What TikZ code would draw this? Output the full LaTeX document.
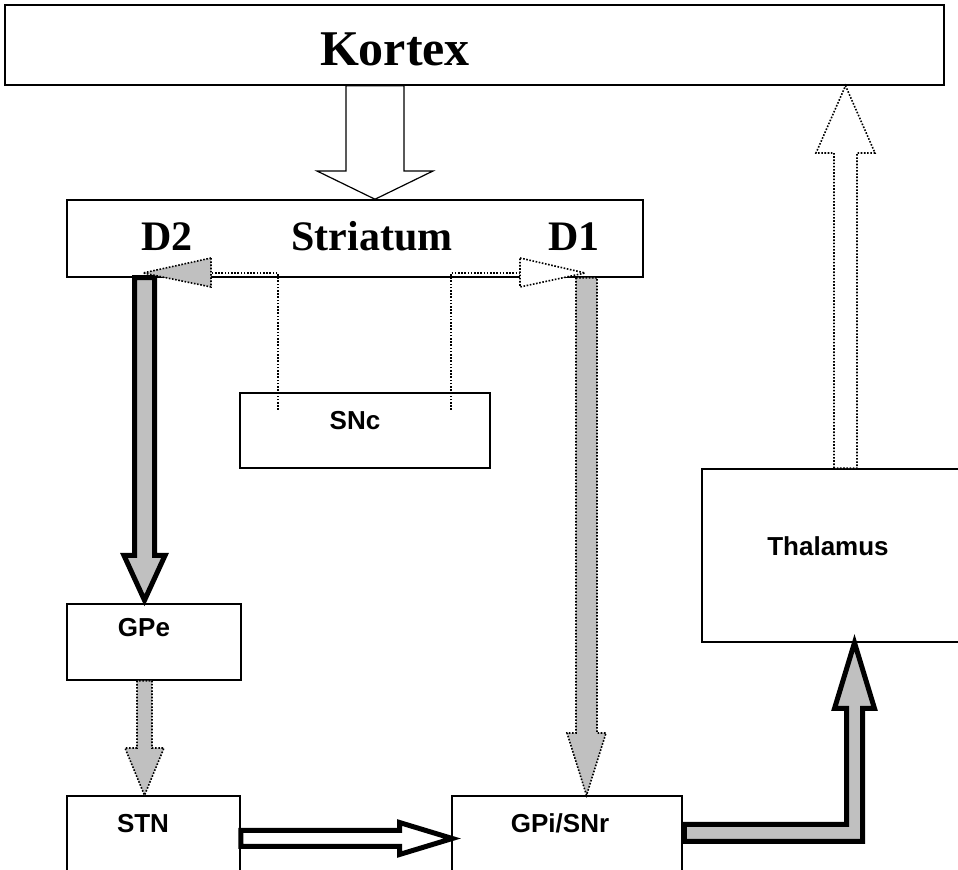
\documentclass[tikz,border=0pt]{standalone}
\usepackage{fontspec}
\setmainfont{Liberation Serif}
\newfontfamily\arialfont{Liberation Sans}
\usetikzlibrary{calc}
\definecolor{silver}{RGB}{192,192,192}

\begin{document}
\begin{tikzpicture}[
  box/.style={draw,rectangle,line width=1.5bp,inner sep=0pt},
  bigtext/.style={font=\fontsize{42bp}{42bp}\selectfont\bfseries,anchor=base,inner sep=0pt},
  smalltext/.style={font=\arialfont\fontsize{26bp}{26bp}\selectfont\bfseries,anchor=base,inner sep=0pt},
  hollow/.style={draw,fill=white,line width=1.2bp},
  hollowthick/.style={draw,fill=white,line width=5bp},
  greythick/.style={draw,fill=silver,line width=5bp},
  dotline/.style={draw,line width=1.6bp,dash pattern=on 1.6bp off 1.6bp},
  greydot/.style={dotline,fill=silver},
  whitedot/.style={dotline,fill=white}]
  \useasboundingbox (0,0) rectangle (958bp,870bp);
  %% boxes
  \node (Kortex) at (474.5bp,825bp) [box,minimum width=939bp,minimum height=80bp] {};
  \node (Striatum) at (355bp,631.5bp) [box,minimum width=576bp,minimum height=77bp] {};
  \node (SNc) at (365bp,439.5bp) [box,minimum width=250bp,minimum height=75bp] {};
  \node (GPe) at (154bp,228bp) [box,minimum width=174bp,minimum height=76bp] {};
  \node (STN) at (153.5bp,24bp) [box,minimum width=173bp,minimum height=100bp] {};
  \node (GPi) at (567bp,24bp) [box,minimum width=230bp,minimum height=100bp] {};
  \node (Thalamus) at (841bp,314.5bp) [box,minimum width=278bp,minimum height=173bp] {};
  %% labels
  \node (KortexLbl) at (395bp,804bp) [bigtext,font=\fontsize{50bp}{50bp}\selectfont\bfseries] {Kortex};
  \node (D2Lbl) at (167bp,619bp) [bigtext] {D2};
  \node (StriatumLbl) at (372bp,619bp) [bigtext] {Striatum};
  \node (D1Lbl) at (574bp,619bp) [bigtext] {D1};
  \node (SNcLbl) at (355bp,440bp) [smalltext] {SNc};
  \node (GPeLbl) at (144bp,233bp) [smalltext] {GPe};
  \node (STNLbl) at (143bp,38bp) [smalltext] {STN};
  \node (GPiLbl) at (560bp,38bp) [smalltext] {GPi/SNr};
  \node (ThalamusLbl) at (828bp,314bp) [smalltext] {Thalamus};
  %% Kortex -> Striatum
  \draw [hollow] let \p1=(Kortex.south), \p2=(Striatum.north) in
    (346bp,\y1) -- (346bp,699bp) -- (317bp,699bp) -- (375bp,\y2)
    -- (433bp,699bp) -- (404bp,699bp) -- (404bp,\y1) -- cycle;
  %% Thalamus -> Kortex
  \draw [whitedot] let \p1=(Thalamus.north), \p2=(Kortex.south) in
    (834bp,\y1) -- (834bp,717bp) -- (816bp,717bp) -- (845.5bp,\y2)
    -- (875bp,717bp) -- (857bp,717bp) -- (857bp,\y1) -- cycle;
  %% D2 -> GPe
  \draw [greythick] let \p1=(Striatum.south), \p2=(GPe.north) in
    (134.5bp,\y1) -- (134.5bp,314.5bp) -- (124bp,314.5bp) -- (144.5bp,\y2+3bp)
    -- (165bp,314.5bp) -- (154.5bp,314.5bp) -- (154.5bp,\y1) -- cycle;
  %% D1 -> GPi/SNr
  \draw [greydot] let \p1=(Striatum.south), \p2=(GPi.north) in
    (576bp,\y1) -- (576bp,137bp) -- (567bp,137bp) -- (586.5bp,\y2)
    -- (606bp,137bp) -- (597bp,137bp) -- (597bp,\y1) -- cycle;
  %% GPe -> STN
  \draw [greydot] let \p1=(GPe.south), \p2=(STN.north) in
    (137bp,\y1) -- (137bp,122bp) -- (125bp,122bp) -- (144.5bp,\y2)
    -- (164bp,122bp) -- (152bp,122bp) -- (152bp,\y1) -- cycle;
  %% STN -> GPi/SNr
  \draw [hollowthick] let \p1=(STN.east), \p2=(GPi.west) in
    (\x1,39.5bp) -- (399.5bp,39.5bp) -- (399.5bp,47.5bp) -- (\x2+1bp,31.5bp)
    -- (399.5bp,15.5bp) -- (399.5bp,23.5bp) -- (\x1,23.5bp) -- cycle;
  %% GPi/SNr -> Thalamus
  \draw [greythick] let \p1=(GPi.east), \p2=(Thalamus.south) in
    (\x1+1.5bp,45.5bp) -- (846.5bp,45.5bp) -- (846.5bp,161.5bp) -- (834.5bp,161.5bp)
    -- (854.5bp,\y2) -- (874.5bp,161.5bp) -- (862.5bp,161.5bp) -- (862.5bp,28.5bp)
    -- (\x1+1.5bp,28.5bp) -- cycle;
  %% SNc -> D2 / D1
  \coordinate (snL) at (278bp,460bp);
  \coordinate (snR) at (451bp,460bp);
  \coordinate (d2tip) at (143bp,597bp);
  \coordinate (d1tip) at (585bp,597bp);
  \draw [dotline] (snL) |- (211bp,597bp);
  \draw [greydot] (211bp,612bp) -- (d2tip) -- (211bp,583bp) -- cycle;
  \draw [dotline] (snR) |- (520bp,597bp);
  \draw [whitedot] (520bp,612bp) -- (d1tip) -- (520bp,583bp) -- cycle;
\end{tikzpicture}
\end{document}
